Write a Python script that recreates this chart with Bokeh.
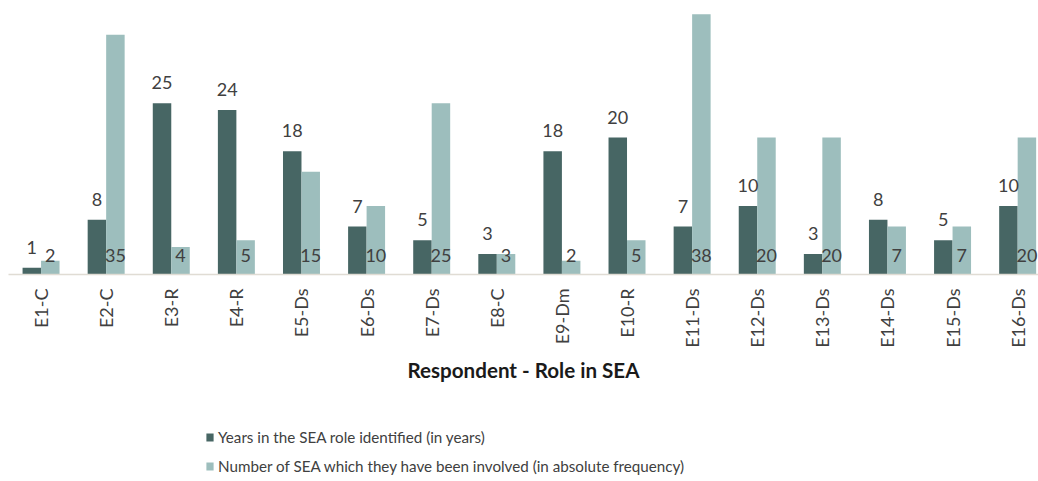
import math
from bokeh.plotting import figure
from bokeh.layouts import column
from bokeh.models import (ColumnDataSource, Range1d, FixedTicker, LabelSet,
                          Legend, LegendItem)
from bokeh.core.properties import value
from bokeh.embed import file_html
from bokeh.resources import INLINE

categories = ["E1-C", "E2-C", "E3-R", "E4-R", "E5-Ds", "E6-Ds", "E7-Ds", "E8-C",
              "E9-Dm", "E10-R", "E11-Ds", "E12-Ds", "E13-Ds", "E14-Ds", "E15-Ds", "E16-Ds"]
years = [1, 8, 25, 24, 18, 7, 5, 3, 18, 20, 7, 10, 3, 8, 5, 10]
num_sea = [2, 35, 4, 5, 15, 10, 25, 3, 2, 5, 38, 20, 20, 7, 7, 20]
series_names = ["Years in the SEA role identified (in years)",
                "Number of SEA which they have been involved (in absolute frequency)"]

DARK = "#476664"
LIGHT = "#9dbebd"
FONT = "Lato"
TXT = "#404040"

idx = list(range(len(categories)))
off = 0.142
w = 0.284
src = ColumnDataSource(dict(
    x1=[i - off for i in idx], x2=[i + off for i in idx],
    years=years, num=num_sea, zero=[0] * len(idx),
    ylab=[str(v) for v in years], nlab=[str(v) for v in num_sea],
))

W = 1038
p = figure(width=W, height=400, output_backend="svg", toolbar_location=None,
           x_range=Range1d(-0.5, 15.32), y_range=Range1d(0, 40),
           min_border_left=8, min_border_right=0, min_border_top=0,
           min_border_bottom=126)
p.outline_line_color = None
p.grid.visible = False
p.yaxis.visible = False

r1 = p.vbar(x="x1", top="years", width=w, source=src, fill_color=DARK, line_color=None)
r2 = p.vbar(x="x2", top="num", width=w, source=src, fill_color=LIGHT, line_color=None)

l1 = LabelSet(x="x1", y="years", text="ylab", source=src, text_align="center",
              text_baseline="alphabetic", y_offset=14, text_font=value(FONT),
              text_font_size="18px", text_color=TXT)
l2 = LabelSet(x="x2", y="zero", text="nlab", source=src, text_align="center",
              text_baseline="alphabetic", y_offset=13, text_font=value(FONT),
              text_font_size="18px", text_color=TXT)
p.add_layout(l1)
p.add_layout(l2)

ax = p.xaxis[0]
ax.ticker = FixedTicker(ticks=idx)
ax.major_label_overrides = {i: c for i, c in zip(idx, categories)}
ax.major_label_orientation = math.pi / 2
ax.major_tick_line_color = None
ax.minor_tick_line_color = None
ax.major_tick_out = 0
ax.major_label_standoff = 14
ax.axis_line_color = "#e0dcd4"
ax.axis_line_width = 1.5
ax.major_label_text_font = FONT
ax.major_label_text_font_size = "18px"
ax.major_label_text_color = TXT
ax.axis_label = "Respondent - Role in SEA"
ax.axis_label_text_font = FONT
ax.axis_label_text_font_style = "bold"
ax.axis_label_text_font_size = "20.6px"
ax.axis_label_text_color = "#1a1a1a"
ax.axis_label_standoff = 7

# legend lives in a second, axis-less figure below the chart
p2 = figure(width=W, height=81, output_backend="svg", toolbar_location=None,
            x_range=Range1d(0, 1), y_range=Range1d(0, 1),
            min_border_left=0, min_border_right=0, min_border_top=0,
            min_border_bottom=0)
p2.outline_line_color = None
p2.grid.visible = False
p2.axis.visible = False
# legend-key renderers, parked outside the visible range
d1 = p2.vbar(x=[5], top=[1], width=0.1, fill_color=DARK, line_color=None)
d2 = p2.vbar(x=[5], top=[1], width=0.1, fill_color=LIGHT, line_color=None)

legend = Legend(items=[LegendItem(label=series_names[0], renderers=[d1]),
                       LegendItem(label=series_names[1], renderers=[d2])],
                location=(197, 5), orientation="vertical",
                glyph_width=9, glyph_height=10, label_height=20,
                spacing=9, padding=0, margin=0, label_standoff=4,
                label_text_font=FONT, label_text_font_size="15.2px",
                label_text_color=TXT, border_line_color=None,
                background_fill_alpha=0)
p2.add_layout(legend)

layout = column(p, p2, spacing=0)
open("out.html", "w").write(file_html(layout, INLINE))
